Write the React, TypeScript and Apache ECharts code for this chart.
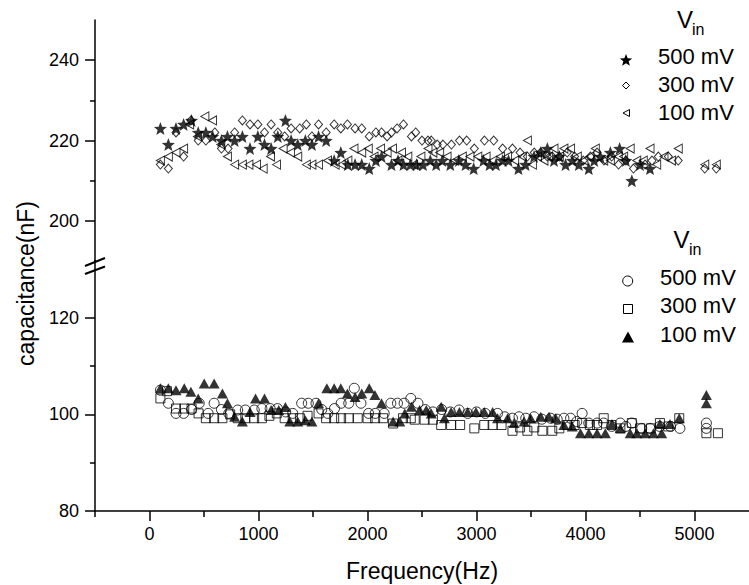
import React, { useEffect, useRef } from "react";
import * as echarts from "echarts";

const FONT = "'Liberation Sans', Arial, Helvetica, sans-serif";

// ---------- Data (Frequency in Hz, capacitance in nF) ----------
// Upper block, 500 mV (filled stars)
const up500F = [100,173,243,313,386,447,517,580,660,715,781,852,922,994,1055,1116,1177,1247,1299,1360,1430,1490,1551,1621,1694,1755,1820,1886,1947,2016,2077,2129,2220,2280,2330,2393,2450,2509,2576,2630,2686,2760,2838,2900,2974,3063,3120,3178,3240,3294,3385,3450,3528,3590,3650,3711,3760,3817,3880,3939,4030,4080,4136,4228,4313,4370,4425,4500,4592];
const up500V = [223,219,223,224,225,222,222,221,220,221,220,221,218,221,219,218,221,225,220,219,220,219,221,220,215,217,214,214,214,213,215,216,214,215,214,214,214,214,215,214,215,214,215,214,213,215,214,214,215,215,213,214,216,217,218,215,216,214,215,214,213,215,216,217,218,215,210,214,213];

// Upper block, 300 mV (open diamonds)
const up300F = [100,173,243,313,380,447,517,599,660,721,781,852,922,994,1055,1116,1177,1240,1299,1378,1439,1490,1551,1621,1694,1755,1816,1886,1947,2016,2077,2129,2180,2220,2271,2330,2403,2442,2500,2555,2585,2640,2692,2770,2844,2910,2980,3073,3158,3240,3330,3400,3467,3530,3589,3650,3695,3760,3832,3900,3980,4045,4106,4170,4240,4303,4370,4440,4547,4610,4668,4760,4851,5094,5200];
const up300V = [214,213,222,216,225,220,220,222,218,218,222,225,224,224,222,224,222,221,223,223,224,221,224,222,224,223,224,223,223,221,222,222,221,222,223,224,221,222,220,220,220,219,219,219,220,220,218,220,220,218,218,217,216,217,217,216,216,216,217,216,215,216,217,215,216,214,215,213,214,215,216,216,215,213,213];

// Upper block, 100 mV (open left triangles)
const up100F = [100,173,243,313,368,440,508,578,654,715,781,852,912,982,1043,1110,1165,1226,1293,1360,1439,1490,1551,1633,1703,1760,1820,1876,1947,2007,2060,2120,2180,2229,2280,2312,2370,2423,2490,2555,2600,2662,2730,2800,2870,2940,3012,3088,3150,3220,3285,3350,3420,3467,3513,3560,3619,3660,3711,3760,3802,3863,3925,3985,4040,4090,4167,4228,4300,4350,4410,4470,4530,4592,4653,4720,4790,4851,5094,5200];
const up100V = [215,216,217,218,224,221,226,225,219,216,214,214,214,214,213,216,214,218,217,216,214,214,214,215,214,214,215,218,217,218,216,218,217,218,215,217,216,214,216,218,217,217,216,215,216,216,216,216,215,216,216,215,216,220,214,216,215,216,218,216,218,218,216,215,216,218,215,215,216,216,218,215,215,218,214,216,215,218,214,214];

// Lower block, 500 mV (open circles)
const lo500F = [100,173,243,313,386,456,538,593,660,727,809,879,961,1031,1107,1174,1250,1314,1396,1457,1527,1580,1636,1697,1758,1828,1879,1940,2010,2071,2153,2214,2275,2336,2397,2463,2530,2600,2680,2760,2840,2920,3000,3080,3193,3260,3330,3390,3452,3528,3600,3680,3740,3802,3863,3920,3969,4030,4106,4167,4240,4319,4370,4425,4516,4592,4680,4780,4866,5109,5109];
const lo500V = [105,102.3,100.2,100.2,101,102.3,100.2,102.3,101,100.2,100.9,100.9,100.9,101.2,101.2,101.2,100.5,100.2,102.3,102.3,102.3,101,100.2,101.2,102.3,102.3,105.4,102.3,100.2,100.2,100.2,102.3,102.3,102.3,103.3,102.3,101,100.5,101,100.5,100.9,100.2,100.5,100.2,100.2,99.5,99.2,99.5,99.2,99.5,99,99.2,99,99.2,99.2,98.5,100.2,98.2,98.2,98.2,97.5,98.2,97.5,98.2,97.1,97.1,97.5,97.5,97.1,98.2,97.1];

// Lower block, 300 mV (open squares)
const lo300F = [100,160,243,319,386,450,517,593,669,740,809,879,960,1031,1100,1168,1240,1314,1380,1450,1551,1620,1694,1758,1828,1910,2001,2070,2144,2235,2326,2397,2433,2524,2600,2676,2767,2850,2980,3071,3148,3230,3330,3400,3467,3530,3604,3695,3760,3830,3900,3969,4040,4106,4167,4240,4320,4425,4500,4600,4683,4760,4860,5109,5215];
const lo300V = [103.3,104.8,101.2,101.2,101.2,100.2,99.2,99.2,99.2,100,99.2,99.2,99.2,99.2,99.7,100.2,99.2,99.2,99.2,99.7,100.2,99.2,99.2,99.2,99.2,99.2,99.2,99.2,99.2,98.1,99.2,99.2,98.9,98.9,98.9,97.8,97.8,97.8,97.1,97.8,97.8,97.8,96.6,97.3,96.6,97.3,96.6,96.6,97.1,97.8,97.8,98.2,97.8,97.8,99.2,97.8,97.1,98.2,97.1,97.1,98.2,97.5,99.2,96.1,96.1];

// Lower block, 100 mV (filled triangles)
const lo100F = [100,173,243,319,380,447,502,593,669,715,781,852,922,973,1055,1116,1186,1247,1287,1360,1430,1490,1551,1627,1694,1755,1816,1886,1947,2016,2068,2129,2235,2296,2342,2403,2478,2539,2585,2676,2706,2767,2843,2919,2995,3071,3148,3193,3285,3345,3437,3497,3589,3665,3726,3802,3878,3954,4030,4106,4182,4243,4319,4410,4471,4547,4623,4683,4699,4775,4860,5109,5109];
const lo100V = [105.4,105.4,105,105.4,104.7,103.3,106.4,106.4,104.3,102.3,99.5,98.5,100.5,103.3,103.3,100.9,100.9,101.5,98.5,98.5,98.8,98.5,102.3,105.4,105.4,105.4,104.3,103.6,104.3,105.4,104,102.3,98.5,98.5,100.2,101.6,100.9,100.9,100.2,101.6,99.2,100.5,100.5,100.5,100.5,100.5,100.5,99.2,99.2,98.2,98.5,99.2,99.5,99.5,99.2,97.8,97.5,96.1,96.1,96.1,96.1,98,97.1,96.1,96.1,96.1,96.1,98,96.1,98,99.2,104,102.3];

// Axis ticks / labels
const xMajor = [0, 1000, 2000, 3000, 4000, 5000];
const xMinor = [-500, 500, 1500, 2500, 3500, 4500];
const yUpMajor = [200, 220, 240];
const yUpMinor = [210, 230];
const yLoMajor = [80, 100, 120];
const yLoMinor = [90, 110];

const legendLabels = ["500 mV", "300 mV", "100 mV"];

function zip(f: number[], v: number[]) {
  return f.map((x, i) => [x, v[i]]);
}

function starPts(cx: number, cy: number, R: number, r: number) {
  const pts: number[][] = [];
  for (let i = 0; i < 10; i++) {
    const rad = i % 2 === 0 ? R : r;
    const a = -Math.PI / 2 + (i * Math.PI) / 5;
    pts.push([cx + rad * Math.cos(a), cy + rad * Math.sin(a)]);
  }
  return pts;
}
const STAR =
  "path://M" +
  starPts(10, 10, 10, 4.3)
    .map((p) => p[0].toFixed(2) + "," + p[1].toFixed(2))
    .join("L") +
  "Z";
const LTRI = "path://M0,5L10,0L10,10Z";

const OPEN = { color: "rgba(0,0,0,0)", borderColor: "#000", borderWidth: 1 };
const FILL = { color: "#000", borderColor: "#000", borderWidth: 0 };

export default function App() {
  const ref = useRef<HTMLDivElement>(null);
  useEffect(() => {
    if (!ref.current) return;
    const chart = echarts.init(ref.current, null, { renderer: "svg" });
    const axisLineStyle = { color: "#000", width: 1.5 };
    const labelStyle = { color: "#000", fontFamily: FONT, fontSize: 18 };
    const plain = (v: number) => String(v);
    const base = { type: "scatter", animation: false, silent: true };

    const txt = (text: string, x: number, y: number, size: number, align = "left") => ({
      type: "text",
      x,
      y,
      silent: true,
      style: { text, fill: "#000", font: `${size}px ${FONT}`, align, verticalAlign: "middle" },
    });

    const graphics: any[] = [
      // axis break
      { type: "line", silent: true, shape: { x1: 95, y1: 260, x2: 95, y2: 270 }, style: { stroke: "#000", lineWidth: 1.5 } },
      { type: "line", silent: true, shape: { x1: 85, y1: 266, x2: 105, y2: 258 }, style: { stroke: "#000", lineWidth: 2 } },
      { type: "line", silent: true, shape: { x1: 85, y1: 274, x2: 105, y2: 266.5 }, style: { stroke: "#000", lineWidth: 2 } },
      // y title
      {
        type: "text",
        x: 26,
        y: 283.5,
        rotation: Math.PI / 2,
        silent: true,
        style: { text: "capacitance(nF)", fill: "#000", font: `23px ${FONT}`, align: "center", verticalAlign: "middle" },
      },
      // upper legend
      txt("V", 685, 19, 24, "center"),
      txt("in", 692, 29, 16),
      txt(legendLabels[0], 658, 56, 22),
      txt(legendLabels[1], 658, 84.5, 22),
      txt(legendLabels[2], 658, 112.5, 22),
      { type: "polygon", silent: true, shape: { points: starPts(626, 60.5, 6.5, 2.8) }, style: { fill: "#000" } },
      { type: "polygon", silent: true, shape: { points: [[626, 82], [629.5, 85.5], [626, 89], [622.5, 85.5]] }, style: { fill: "none", stroke: "#000", lineWidth: 1 } },
      { type: "polygon", silent: true, shape: { points: [[623, 113], [629.5, 109.5], [629.5, 116.5]] }, style: { fill: "none", stroke: "#000", lineWidth: 1 } },
      // lower legend
      txt("V", 681.5, 239, 24, "center"),
      txt("in", 689, 249, 16),
      txt(legendLabels[0], 660, 277.5, 22),
      txt(legendLabels[1], 660, 305.5, 22),
      txt(legendLabels[2], 660, 334, 22),
      { type: "circle", silent: true, shape: { cx: 627.7, cy: 281, r: 5 }, style: { fill: "none", stroke: "#000", lineWidth: 1 } },
      { type: "rect", silent: true, shape: { x: 623.5, y: 304.5, width: 9, height: 9 }, style: { fill: "none", stroke: "#000", lineWidth: 1 } },
      { type: "polygon", silent: true, shape: { points: [[628, 331.5], [634, 342.5], [622, 342.5]] }, style: { fill: "#000" } },
    ];

    const minorY = (gridIndex: number, min: number, max: number, vals: number[]) => ({
      gridIndex,
      type: "value",
      position: "left",
      min,
      max,
      axisLine: { show: false, onZero: false },
      axisTick: { show: true, inside: false, length: 5, customValues: vals, lineStyle: axisLineStyle },
      axisLabel: { show: false },
      splitLine: { show: false },
    });
    const majorY = (gridIndex: number, min: number, max: number, vals: number[]) => ({
      gridIndex,
      type: "value",
      position: "left",
      min,
      max,
      axisLine: { show: true, onZero: false, lineStyle: axisLineStyle },
      axisTick: { show: true, inside: false, length: 10, customValues: vals, lineStyle: axisLineStyle },
      axisLabel: { show: true, customValues: vals, margin: 16, formatter: plain, ...labelStyle },
      splitLine: { show: false },
    });

    const option: any = {
      animation: false,
      backgroundColor: "#fff",
      grid: [
        { left: 95, top: 20, width: 658, height: 241, containLabel: false },
        { left: 95, top: 269.4, width: 658, height: 241.6, containLabel: false },
      ],
      xAxis: [
        { gridIndex: 0, type: "value", min: -500, max: 5500, show: false },
        {
          gridIndex: 1,
          type: "value",
          position: "bottom",
          min: -500,
          max: 5500,
          axisLine: { show: true, onZero: false, lineStyle: axisLineStyle },
          axisTick: { show: true, inside: false, length: 10, customValues: xMajor, lineStyle: axisLineStyle },
          axisLabel: { show: true, customValues: xMajor, margin: 14, formatter: plain, ...labelStyle },
          splitLine: { show: false },
          name: "Frequency(Hz)",
          nameLocation: "middle",
          nameGap: 48,
          nameTextStyle: { color: "#000", fontFamily: FONT, fontSize: 23 },
        },
        {
          gridIndex: 1,
          type: "value",
          position: "bottom",
          min: -500,
          max: 5500,
          axisLine: { show: false, onZero: false },
          axisTick: { show: true, inside: false, length: 6, customValues: xMinor, lineStyle: axisLineStyle },
          axisLabel: { show: false },
          splitLine: { show: false },
        },
      ],
      yAxis: [
        majorY(0, 190, 250, yUpMajor),
        minorY(0, 190, 250, yUpMinor),
        majorY(1, 80, 130, yLoMajor),
        minorY(1, 80, 130, yLoMinor),
      ],
      series: [
        { ...base, name: "500 mV (upper)", xAxisIndex: 0, yAxisIndex: 0, symbol: STAR, symbolSize: 13, itemStyle: FILL, data: zip(up500F, up500V) },
        { ...base, name: "300 mV (upper)", xAxisIndex: 0, yAxisIndex: 0, symbol: "diamond", symbolSize: [8, 9], itemStyle: OPEN, data: zip(up300F, up300V) },
        { ...base, name: "100 mV (upper)", xAxisIndex: 0, yAxisIndex: 0, symbol: LTRI, symbolSize: [8, 9], itemStyle: OPEN, data: zip(up100F, up100V) },
        { ...base, name: "500 mV (lower)", xAxisIndex: 1, yAxisIndex: 2, symbol: "circle", symbolSize: 10, itemStyle: OPEN, data: zip(lo500F, lo500V) },
        { ...base, name: "300 mV (lower)", xAxisIndex: 1, yAxisIndex: 2, symbol: "rect", symbolSize: 9, itemStyle: OPEN, data: zip(lo300F, lo300V) },
        { ...base, name: "100 mV (lower)", xAxisIndex: 1, yAxisIndex: 2, symbol: "triangle", symbolSize: [11, 10], itemStyle: FILL, data: zip(lo100F, lo100V) },
      ],
      graphic: graphics,
    };
    chart.setOption(option);
    return () => chart.dispose();
  }, []);

  return (
    <div
      ref={ref}
      style={{ position: "absolute", left: 0, top: 0, width: 749, height: 585, background: "#fff" }}
    />
  );
}
